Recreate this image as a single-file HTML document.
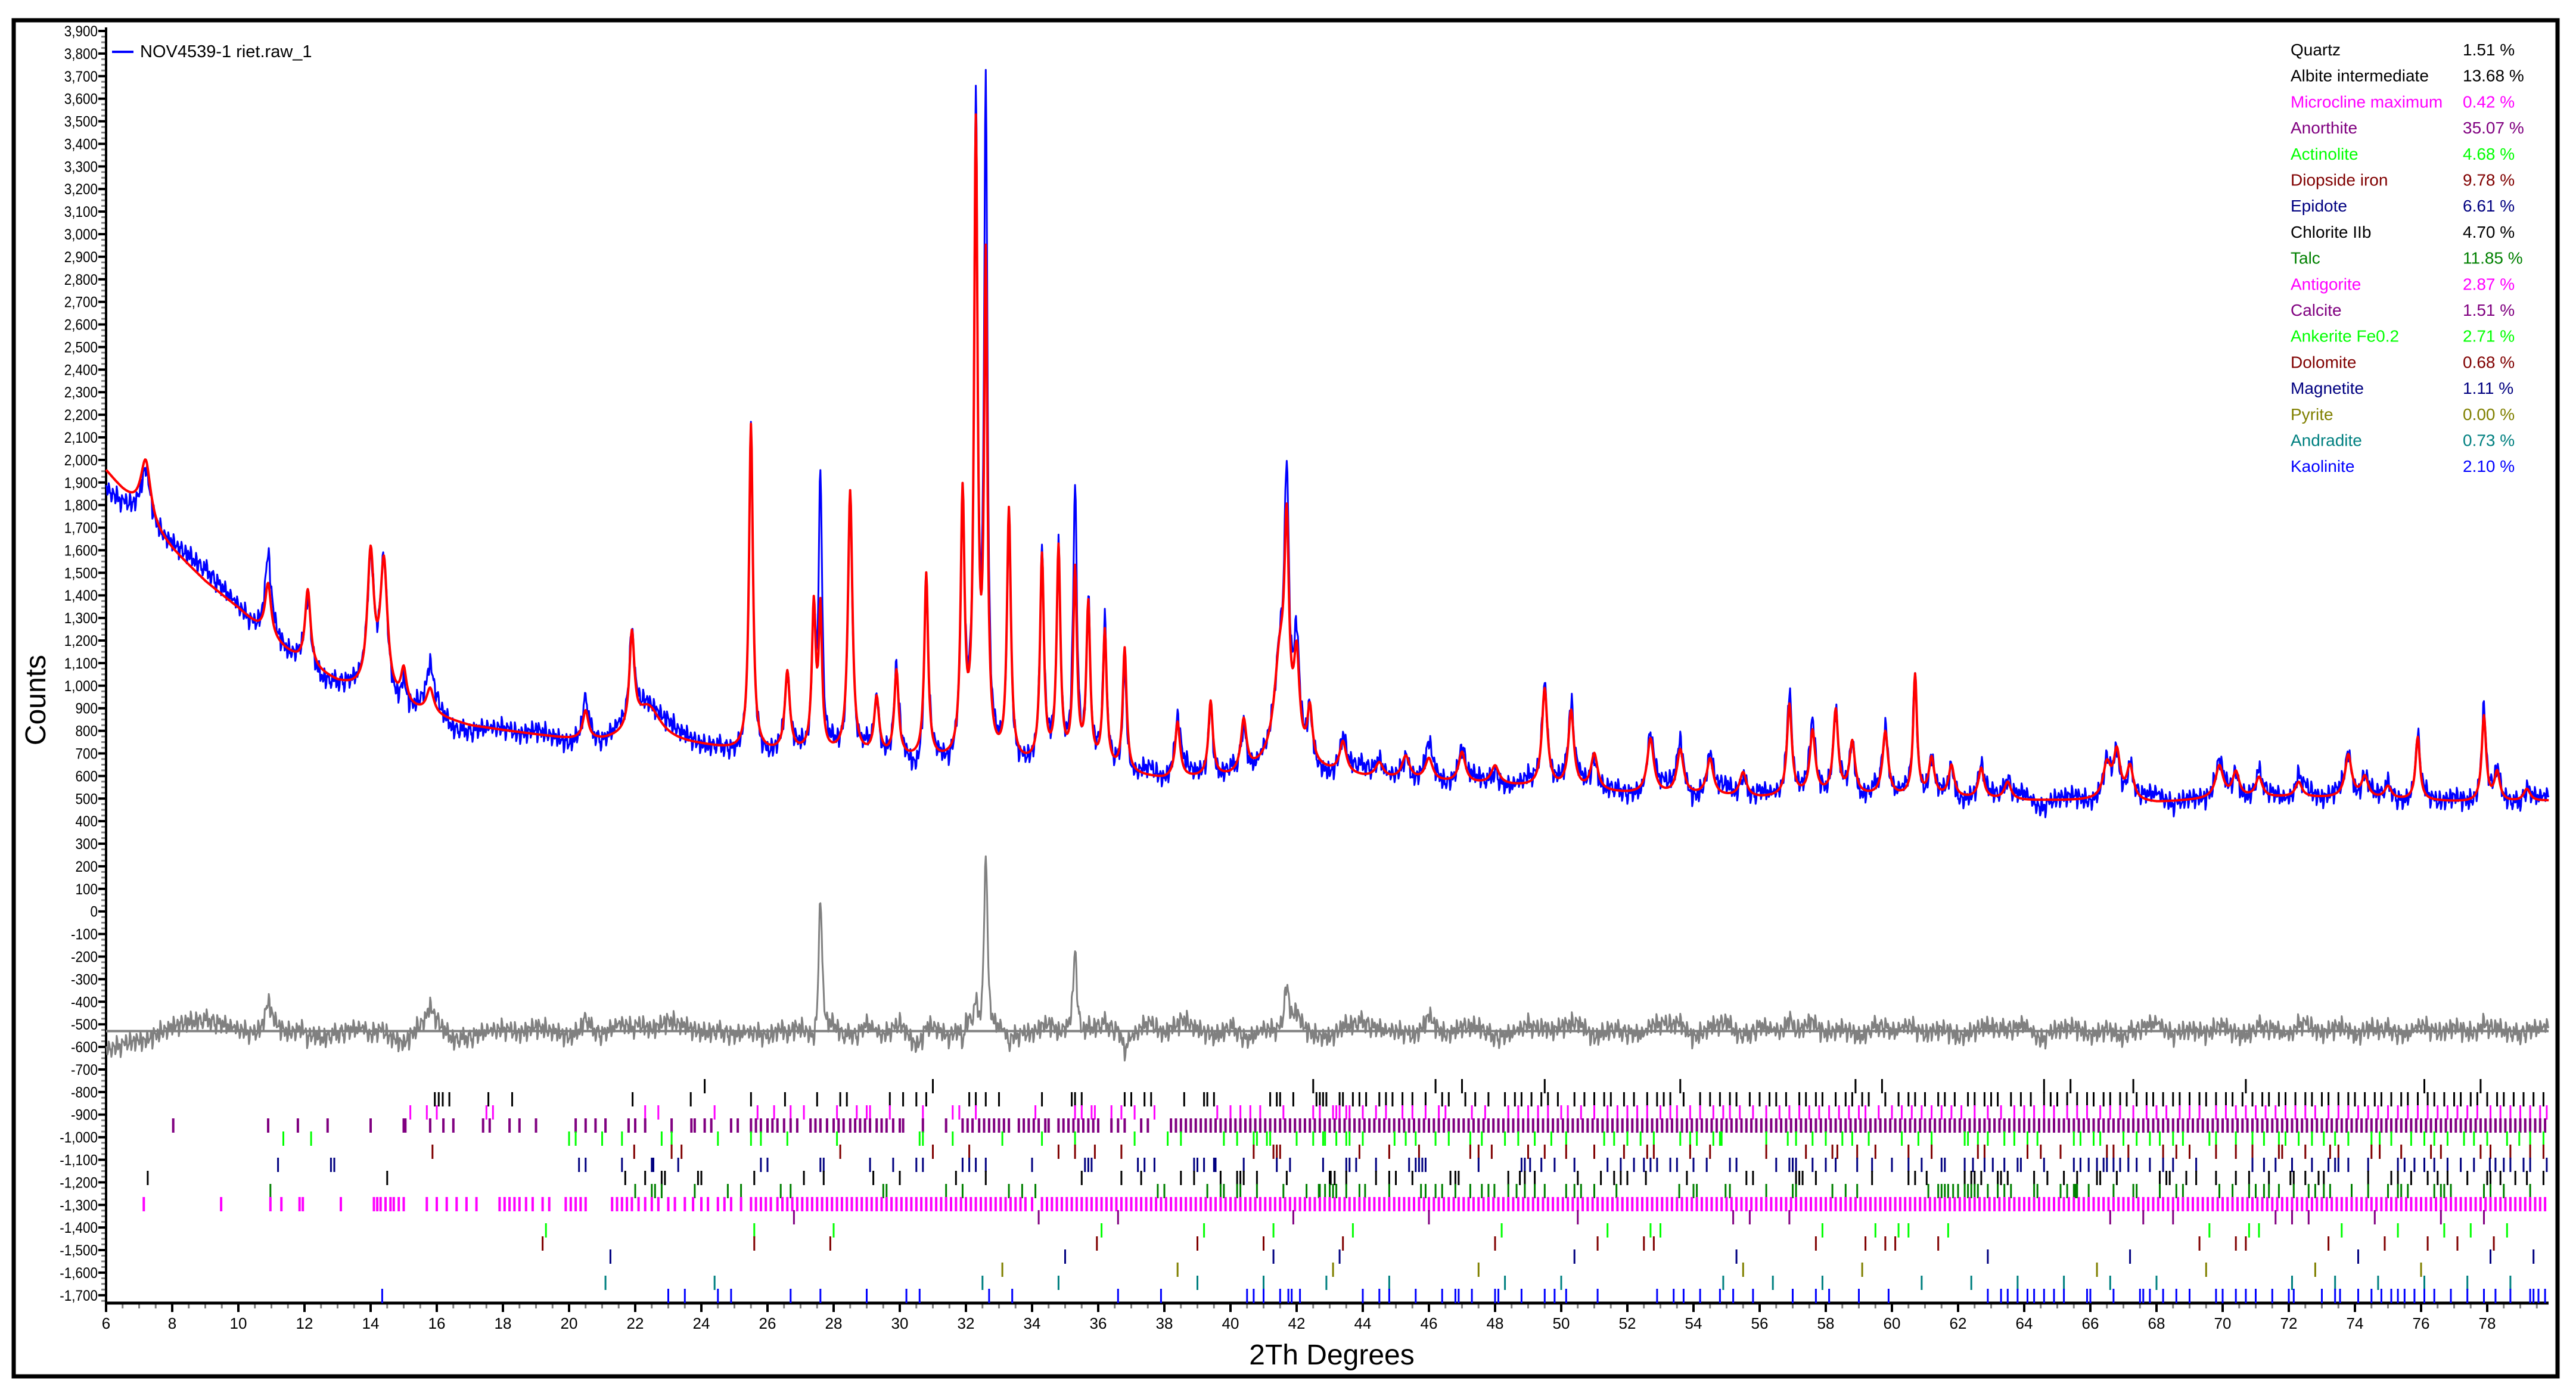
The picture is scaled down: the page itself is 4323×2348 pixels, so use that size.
<!DOCTYPE html>
<html><head><meta charset="utf-8"><title>XRD Rietveld plot</title>
<style>
html,body{margin:0;padding:0;background:#fff;}
svg{display:block;}
text{font-family:"Liberation Sans",Arial,sans-serif;}
</style></head>
<body>
<svg id="chart" xmlns="http://www.w3.org/2000/svg" width="4323" height="2348" viewBox="0 0 4323 2348">
<rect x="0" y="0" width="4323" height="2348" fill="#fff"/>
<rect x="23" y="34" width="4269" height="2276" fill="none" stroke="#000" stroke-width="7"/>
<g id="yaxis"></g>
<g id="xaxis"></g>
<g id="ticksLayer"></g>
<g id="curves"></g>
<text x="0" y="0" font-size="48" text-anchor="middle" transform="translate(76,1175) rotate(-90)">Counts</text>
<text x="2235" y="2290" font-size="48" text-anchor="middle">2Th Degrees</text>
<g>
<line x1="188" y1="87" x2="224" y2="87" stroke="#0000ff" stroke-width="4"/>
<text x="235" y="96" font-size="29">NOV4539-1 riet.raw_1</text>
</g>
<g id="phaseLegend"></g>
</svg>
<script>
// ---- phase legend data ----
const phaseNames=["Quartz","Albite intermediate","Microcline maximum","Anorthite","Actinolite","Diopside iron","Epidote","Chlorite IIb","Talc","Antigorite","Calcite","Ankerite Fe0.2","Dolomite","Magnetite","Pyrite","Andradite","Kaolinite"];
const phasePct=["1.51 %","13.68 %","0.42 %","35.07 %","4.68 %","9.78 %","6.61 %","4.70 %","11.85 %","2.87 %","1.51 %","2.71 %","0.68 %","1.11 %","0.00 %","0.73 %","2.10 %"];
const phaseColors=["#000000","#000000","#ff00ff","#800080","#00ff00","#800000","#000080","#000000","#008000","#ff00ff","#800080","#00ff00","#800000","#000080","#808000","#008080","#0000ff"];

// ---- background (2theta, counts) ----
const bgX=[6,6.5,7,7.5,8,8.5,9,9.5,10,11,12,13,14,15,16,17,18,19,20,21,22,23,24,25,26,28,30,32,34,36,38,40,41,42,43,44,46,48,50,52,54,56,58,60,62,64,66,68,70,72,74,76,78,80];
const bgY=[1950,1860,1780,1680,1600,1530,1460,1400,1340,1200,1090,1010,960,900,860,820,800,780,760,750,760,745,730,710,700,690,670,650,640,620,580,590,620,640,610,590,570,560,540,520,510,500,510,505,500,490,490,480,500,505,500,490,480,490];

// ---- peaks ----
const peakPos=[7.2,10.9,12.1,14.0,14.4,15.0,15.8,20.5,21.9,22.4,25.5,26.6,27.4,27.6,28.5,29.3,29.9,30.8,31.9,32.3,32.6,33.3,34.3,34.8,35.3,35.7,36.2,36.8,38.4,39.4,40.4,41.5,41.7,42.0,42.4,43.4,44.5,45.3,46.0,47.0,48.0,49.5,50.3,51.0,52.7,53.6,54.5,55.5,56.9,57.6,58.3,58.8,59.8,60.7,61.2,61.8,62.7,63.5,66.5,66.8,67.2,69.9,70.4,71.1,72.3,73.8,74.3,75.0,75.9,77.9,78.3,79.2];
const calcPeak=[2000,1450,1420,1560,1520,1050,980,880,1180,900,2150,1050,1330,1300,1850,930,1050,1480,1800,3400,2800,1750,1550,1580,1480,1330,1220,1150,830,920,830,1100,1500,1050,860,740,650,680,670,700,640,980,880,690,760,710,670,610,910,790,880,740,790,1040,670,640,630,570,640,690,630,640,610,590,570,690,590,550,770,860,610,540];
const obsPeak=[1980,1560,1380,1500,1530,1040,1060,930,1160,920,2130,1000,1280,1950,1900,930,1040,1520,1700,3500,3650,1700,1560,1550,1850,1350,1240,1060,810,930,830,1100,1700,1100,860,750,670,690,710,710,650,1020,880,690,790,740,680,640,990,810,880,750,810,1040,680,650,640,590,650,690,640,650,620,610,590,710,600,560,770,890,620,550];
const peakWidth=[0.18,0.11,0.1,0.12,0.13,0.1,0.13,0.1,0.09,0.45,0.07,0.09,0.07,0.06,0.08,0.09,0.08,0.07,0.07,0.065,0.06,0.07,0.07,0.07,0.07,0.07,0.07,0.07,0.09,0.08,0.1,0.22,0.08,0.1,0.09,0.12,0.14,0.14,0.14,0.12,0.14,0.1,0.1,0.12,0.12,0.12,0.12,0.12,0.09,0.1,0.09,0.1,0.1,0.07,0.1,0.1,0.1,0.12,0.14,0.12,0.12,0.14,0.12,0.12,0.12,0.12,0.12,0.12,0.08,0.08,0.1,0.12];

// ---- residual (obs-calc) at 0.5 deg steps from 6.0 ----
const resid=[-80,-60,-30,-10,20,40,50,30,10,-20,30,-10,20,-30,-10,10,40,-20,-50,20,30,-40,-30,0,10,-10,20,0,-30,10,-20,30,20,-10,40,20,-10,0,-20,10,-30,30,10,-40,20,-60,30,-20,40,-70,20,-30,60,-40,10,-20,-10,30,0,-30,20,10,-20,40,-10,60,10,-30,20,-40,10,-10,30,-20,-30,20,40,-10,0,-30,30,-20,10,20,-40,-10,30,-20,20,40,-30,10,-10,-20,30,20,-30,10,40,-50,20,0,-20,30,-10,10,-30,20,-10,30,-20,10,-30,0,20,-10,30,-40,10,20,-20,0,-30,10,40,-20,10,-10,20,-30,0,10,-20,30,-10,20,-30,10,0,-20,30,-10,20,-10,10,0,-20,10,30,0];
// ---- fine counting-noise texture (counts), repeated every 97 samples of 0.04 deg ----
const noiseTex=[12,-25,31,-8,-40,22,5,-33,47,-15,8,-52,26,14,-6,38,-29,-11,44,-37,3,19,-45,28,-2,-21,36,-48,15,9,-30,41,-17,-4,27,-55,33,6,-24,18,-39,50,-12,-28,21,7,-44,30,-9,16,-35,43,-20,2,25,-50,11,37,-26,-7,34,-41,19,-14,46,-31,4,-23,39,-46,13,24,-18,-36,29,-3,48,-27,10,-42,20,32,-16,-49,35,-1,23,-38,17,-10,42,-34,8,-22,30,-13,1];

// ---- phase tick positions (2theta) ----
const tkQuartz=[24.1,31.0,42.5,46.2,47.0,49.5,53.6,58.9,59.7,64.6,65.4,67.3,70.7,76.1,77.8];
const tkAlbite=[15.94,16.06,16.18,16.38,17.56,18.28,21.92,23.68,25.5,26.53,27.5,28.2,28.4,29.7,30.1,30.5,30.8,32.1,32.3,32.6,33.0,34.3,35.2,35.3,35.5,36.8,37.0,37.4,37.6,38.6,39.2,39.3,39.5,41.2,41.4,41.5,41.9,42.7,42.8,43.4,42.6,42.9,43.3,43.7,43.9,44.1,44.5,44.7,44.9,45.2,45.5,45.9,46.4,46.6,47.1,47.4,47.8,48.3,48.6,48.8,49.1,49.4,49.6,49.9,50.4,50.7,51.0,51.3,51.5,51.9,52.2,52.6,52.9,53.1,53.3,53.7,54.2,54.5,54.8,55.1,55.3,55.7,56.0,56.3,56.5,56.8,57.2,57.4,57.7,57.9,58.3,58.6,58.8,59.1,59.3,59.8,60.2,60.5,60.7,61.0,61.4,61.6,61.9,62.3,62.5,62.8,63.0,63.2,63.6,63.9,64.2,64.6,64.8,65.0,65.3,65.6,65.9,66.1,66.4,66.6,66.9,67.1,67.4,67.7,67.9,68.2,68.5,68.7,69.0,69.3,69.5,69.8,70.1,70.3,70.6,70.9,71.2,71.4,71.7,71.9,72.2,72.5,72.7,73.0,73.2,73.5,73.8,74.0,74.3,74.6,74.8,75.1,75.4,75.6,75.9,76.2,76.4,76.7,77.0,77.2,77.5,77.7,78.0,78.3,78.5,78.8,79.1,79.4,79.7];
const tkMicrocline=[15.2,15.7,16.0,17.5,17.7,22.3,22.7,24.4,25.7,26.2,26.7,27.1,28.1,28.7,29.0,29.1,29.7,30.7,31.6,31.8,32.3,34.1,35.3,35.5,35.8,35.9,36.4,36.7,37.1,37.7,39.6,40.0,40.3,40.6,40.9,41.6,42.5,43.2,43.5,42.7,43.1,43.3,43.6,44.0,44.4,44.7,45.2,45.5,45.9,46.3,46.5,47.3,47.7,48.4,48.7,49.0,49.3,49.6,50.0,50.2,50.6,51.0,51.4,51.7,52.0,52.3,52.6,53.0,53.3,53.5,53.9,54.2,54.6,54.9,55.1,55.4,55.8,56.2,56.6,56.9,57.2,57.5,57.8,58.1,58.4,58.7,59.0,59.2,59.6,60.0,60.3,60.6,60.9,61.2,61.5,61.8,62.1,62.5,62.9,63.3,63.7,64.0,64.3,64.6,64.9,65.3,65.6,65.9,66.3,66.6,66.9,67.3,67.7,68.0,68.3,68.7,69.0,69.3,69.8,70.1,70.4,70.7,71.0,71.3,71.6,71.9,72.2,72.5,72.8,73.2,73.5,73.8,74.1,74.4,74.7,75.0,75.3,75.6,75.9,76.2,76.5,76.8,77.1,77.4,77.7,78.1,78.4,78.7,79.0,79.3,79.6,79.8];
const tkAnorthite=[8.03,10.9,11.8,12.7,14.0,15.0,15.05,15.8,16.2,16.5,17.4,17.6,18.2,18.5,19.0,20.2,20.5,20.8,21.1,21.8,22.0,22.3,23.1,23.7,23.8,24.1,24.3,24.9,25.1,25.5,25.65,25.8,26.0,26.15,26.3,26.5,26.7,26.9,27.3,27.45,27.6,27.8,28.0,28.15,28.3,28.5,28.65,28.8,28.95,29.1,29.3,29.45,29.6,29.8,30.0,30.1,30.7,31.4,31.9,32.05,32.2,32.4,32.55,32.7,32.85,33.0,33.15,33.3,33.6,33.75,33.9,34.05,34.2,34.4,34.5,34.8,34.95,35.1,35.25,35.4,35.55,35.7,35.85,36.0,36.4,36.6,36.8,37.3,37.5,38.2,38.35,38.5,38.65,38.8,38.95,39.1,39.25,39.4,39.55,39.7,39.85,40.0,40.15,40.3,40.45,40.6,40.75,40.9,41.05,41.2,41.35,41.5,41.65,41.8,41.95,42.1,42.25,42.4,42.55,42.7,42.85,43.0,43.15,43.3,43.45,43.6,43.75,43.9,44.05,44.2,44.35,44.5,44.65,44.8,44.95,45.1,45.25,45.4,45.55,45.7,45.85,46.0,46.15,46.3,46.45,46.6,46.75,46.9,47.05,47.2,47.35,47.5,47.65,47.8,47.95,48.1,48.25,48.4,48.55,48.7,48.85,49.0,49.15,49.3,49.45,49.6,49.75,49.9,50.05,50.2,50.35,50.5,50.65,50.8,50.95,51.1,51.25,51.4,51.55,51.7,51.85,52.0,52.15,52.3,52.45,52.6,52.75,52.9,53.05,53.2,53.35,53.5,53.65,53.8,53.95,54.1,54.25,54.4,54.55,54.7,54.85,55.0,55.15,55.3,55.45,55.6,55.75,55.9,56.05,56.2,56.35,56.5,56.65,56.8,56.95,57.1,57.25,57.4,57.55,57.7,57.85,58.0,58.15,58.3,58.45,58.6,58.75,58.9,59.05,59.2,59.35,59.5,59.65,59.8,59.95,60.1,60.25,60.4,60.55,60.7,60.85,61.0,61.15,61.3,61.45,61.6,61.75,61.9,62.05,62.2,62.35,62.5,62.65,62.8,62.95,63.1,63.25,63.4,63.55,63.7,63.85,64.0,64.15,64.3,64.45,64.6,64.75,64.9,65.05,65.2,65.35,65.5,65.65,65.8,65.95,66.1,66.25,66.4,66.55,66.7,66.85,67.0,67.15,67.3,67.45,67.6,67.75,67.9,68.05,68.2,68.35,68.5,68.65,68.8,68.95,69.1,69.25,69.4,69.55,69.7,69.85,70.0,70.15,70.3,70.45,70.6,70.75,70.9,71.05,71.2,71.35,71.5,71.65,71.8,71.95,72.1,72.25,72.4,72.55,72.7,72.85,73.0,73.15,73.3,73.45,73.6,73.75,73.9,74.05,74.2,74.35,74.5,74.65,74.8,74.95,75.1,75.25,75.4,75.55,75.7,75.85,76.0,76.15,76.3,76.45,76.6,76.75,76.9,77.05,77.2,77.35,77.5,77.65,77.8,77.95,78.1,78.25,78.4,78.55,78.7,78.85,79.0,79.15,79.3,79.45,79.6,79.75];
const tkActinolite=[11.36,12.2,20.0,20.2,21.0,21.6,22.8,23.1,24.5,25.5,25.8,26.6,28.1,30.6,30.7,31.6,33.1,34.3,35.3,37.1,38.1,38.5,39.8,40.2,40.7,40.8,41.1,41.2,42.0,42.5,42.8,43.2,43.6,42.86,43.5,44.0,44.96,45.3,45.6,46.2,46.6,47.25,47.6,48.3,48.7,49.2,49.7,50.15,51.3,51.6,52.0,52.4,52.8,53.6,53.9,54.1,54.6,54.8,54.85,56.2,56.85,57.1,57.6,58.0,58.5,58.8,59.3,60.3,60.8,61.2,62.2,62.3,62.6,62.9,63.4,63.7,64.1,64.4,65.5,65.7,66.1,66.3,67.0,67.4,67.8,68.1,68.5,68.8,69.6,69.8,70.4,70.9,71.25,71.7,71.9,72.3,72.7,73.06,73.4,73.8,74.5,74.75,75.1,75.7,76.1,76.4,76.8,77.3,77.6,78.0,78.6,78.97,79.3,79.7];
const tkDiopside=[15.87,21.97,23.1,23.4,28.2,31.0,32.1,34.8,35.3,35.9,36.7,40.7,41.3,41.4,41.5,43.9,44.8,45.7,47.25,47.5,47.9,49.0,49.5,50.15,51.0,51.9,52.6,52.8,53.9,54.5,56.2,57.4,58.2,58.35,58.95,59.5,60.5,61.2,62.6,62.8,64.1,64.5,65.1,66.5,66.7,67.15,68.2,68.6,69.0,69.8,70.4,70.9,71.7,71.8,72.5,73.25,73.5,74.5,74.75,75.4,76.3,76.6,77.8,78.1,78.7,79.3,79.7];
const tkEpidote=[11.2,12.8,12.9,20.3,20.5,21.6,22.5,22.55,23.3,25.8,26.0,27.6,27.7,29.1,29.8,30.5,30.7,31.9,32.1,32.3,32.6,34.0,35.6,35.7,35.8,37.2,37.4,37.7,38.9,39.0,39.2,39.5,39.55,40.4,41.4,41.8,42.8,43.5,43.6,43.8,44.4,45.4,45.6,45.7,45.8,45.9,47.5,48.8,48.9,49.06,49.4,49.8,50.4,51.4,51.8,52.2,52.5,52.7,52.9,53.3,53.5,54.0,54.4,55.1,55.3,56.5,56.9,57.0,57.1,57.6,58.0,58.3,58.95,59.4,60.0,60.5,60.9,61.5,61.6,62.2,62.45,62.8,63.05,63.4,63.8,63.9,64.6,65.5,65.7,65.95,66.2,66.4,66.5,66.7,66.9,67.15,67.4,67.8,68.2,68.5,69.2,70.9,71.25,71.6,72.1,72.7,73.2,73.4,73.5,73.8,74.4,75.3,75.5,75.8,76.1,76.4,76.8,77.2,77.6,78.08,78.25,78.5,78.7,79.1,79.3,79.8];
const tkChlorite=[7.26,14.5,21.7,22.3,22.8,22.9,23.9,24.0,25.6,27.1,27.7,29.2,30.0,31.7,32.6,35.5,36.7,37.3,38.5,38.9,39.7,40.2,40.3,40.4,40.8,41.7,43.0,43.5,43.03,43.15,44.4,44.8,45.0,45.5,46.65,46.8,46.9,48.4,48.75,48.9,49.2,50.5,51.2,51.6,51.8,52.0,52.56,53.8,55.6,55.8,57.1,57.2,57.3,57.7,59.4,60.5,60.7,61.05,62.2,62.4,62.5,62.7,63.2,63.3,63.5,64.3,64.7,65.2,65.6,66.2,66.3,66.8,68.1,68.3,68.4,68.9,69.2,69.8,70.4,70.8,71.4,72.05,72.15,72.5,72.9,73.06,74.4,75.1,75.3,75.7,76.2,76.5,76.8,77.4,78.0,78.1,78.4,78.85,79.2,79.7];
const tkTalc=[10.97,22.0,22.5,22.6,22.8,23.8,24.8,25.2,26.4,26.7,29.5,29.6,31.4,31.9,33.3,33.7,34.1,37.8,38.0,39.3,39.7,39.8,40.2,40.3,40.8,41.6,42.3,42.7,43.0,43.2,43.5,42.67,42.86,43.1,43.9,44.07,44.8,45.76,45.9,46.2,46.4,46.8,47.25,47.6,47.8,47.98,48.4,48.65,48.9,49.2,49.5,50.15,50.4,50.6,51.0,51.67,53.57,54.0,54.1,54.97,55.1,56.2,57.0,57.1,58.2,58.6,58.95,61.1,61.4,61.5,61.6,61.7,61.85,62.0,62.2,62.3,62.4,62.5,62.6,62.9,63.2,63.4,63.6,64.3,64.4,65.1,65.3,65.5,65.55,65.6,65.95,66.7,67.3,67.4,68.1,68.6,68.8,69.9,70.3,70.8,71.0,71.25,71.4,71.7,72.15,72.6,72.8,73.06,73.25,73.9,74.4,75.0,75.3,75.4,75.6,76.4,76.6,76.7,76.9,77.9,78.1,78.5,79.3];
const tkAntigorite=[7.14,9.48,10.97,11.3,11.85,11.95,13.1,14.1,14.2,14.3,14.45,14.6,14.7,14.85,15.0,15.7,16.0,16.3,16.6,16.9,17.2,17.9,18.05,18.2,18.35,18.5,18.7,18.9,19.2,19.4,19.9,20.05,20.2,20.35,20.5,21.3,21.45,21.6,21.75,21.9,22.1,22.3,22.5,22.7,23.0,23.2,23.5,23.75,24.0,24.2,24.5,24.7,24.9,25.2,25.5,25.65,25.8,25.95,26.1,26.3,26.45,26.6,26.75,26.9,27.05,27.2,27.35,27.5,27.65,27.8,27.95,28.1,28.25,28.4,28.55,28.7,28.85,29.0,29.15,29.3,29.45,29.6,29.75,29.9,30.05,30.2,30.35,30.5,30.65,30.8,30.95,31.1,31.25,31.4,31.55,31.7,31.85,32.0,32.15,32.3,32.45,32.6,32.75,32.9,33.05,33.2,33.35,33.5,33.65,33.8,34.0,34.3,34.45,34.6,34.75,34.9,35.05,35.2,35.35,35.5,35.65,35.8,35.95,36.1,36.25,36.4,36.55,36.7,36.85,37.0,37.15,37.3,37.45,37.6,37.75,37.9,38.05,38.2,38.35,38.5,38.65,38.8,38.95,39.1,39.25,39.4,39.55,39.7,39.85,40.0,40.15,40.3,40.45,40.6,40.75,40.9,41.05,41.2,41.35,41.5,41.65,41.8,41.95,42.1,42.25,42.4,42.55,42.7,42.85,43.0,43.15,43.3,43.45,43.6,43.75,43.9,44.05,44.2,44.35,44.5,44.65,44.8,44.95,45.1,45.25,45.4,45.55,45.7,45.85,46.0,46.15,46.3,46.45,46.6,46.75,46.9,47.05,47.2,47.35,47.5,47.65,47.8,47.95,48.1,48.25,48.4,48.55,48.7,48.85,49.0,49.15,49.3,49.45,49.6,49.75,49.9,50.05,50.2,50.35,50.5,50.65,50.8,50.95,51.1,51.25,51.4,51.55,51.7,51.85,52.0,52.15,52.3,52.45,52.6,52.75,52.9,53.05,53.2,53.35,53.5,53.65,53.8,53.95,54.1,54.25,54.4,54.55,54.7,54.85,55.0,55.15,55.3,55.45,55.6,55.75,55.9,56.05,56.2,56.35,56.5,56.65,56.8,56.95,57.1,57.25,57.4,57.55,57.7,57.85,58.0,58.15,58.3,58.45,58.6,58.75,58.9,59.05,59.2,59.35,59.5,59.65,59.8,59.95,60.1,60.25,60.4,60.55,60.7,60.85,61.0,61.15,61.3,61.45,61.6,61.75,61.9,62.05,62.2,62.35,62.5,62.65,62.8,62.95,63.1,63.25,63.4,63.55,63.7,63.85,64.0,64.15,64.3,64.45,64.6,64.75,64.9,65.05,65.2,65.35,65.5,65.65,65.8,65.95,66.1,66.25,66.4,66.55,66.7,66.85,67.0,67.15,67.3,67.45,67.6,67.75,67.9,68.05,68.2,68.35,68.5,68.65,68.8,68.95,69.1,69.25,69.4,69.55,69.7,69.85,70.0,70.15,70.3,70.45,70.6,70.75,70.9,71.05,71.2,71.35,71.5,71.65,71.8,71.95,72.1,72.25,72.4,72.55,72.7,72.85,73.0,73.15,73.3,73.45,73.6,73.75,73.9,74.05,74.2,74.35,74.5,74.65,74.8,74.95,75.1,75.25,75.4,75.55,75.7,75.85,76.0,76.15,76.3,76.45,76.6,76.75,76.9,77.05,77.2,77.35,77.5,77.65,77.8,77.95,78.1,78.25,78.4,78.55,78.7,78.85,79.0,79.15,79.3,79.45,79.6,79.75];
const tkCalcite=[26.8,34.2,36.6,41.9,46.0,50.5,55.2,55.7,56.9,66.6,67.6,68.5,71.6,72.1,72.6,74.6,76.6,77.9];
const tkAnkerite=[19.3,25.6,28.0,36.1,39.2,41.3,43.7,48.2,51.4,52.7,53.0,57.9,59.5,60.2,60.5,61.7,69.6,70.8,71.1,73.6,75.3,76.7,77.5,78.6];
const tkDolomite=[19.2,25.6,27.9,35.96,39.0,41.0,43.4,48.0,51.1,52.5,52.8,57.7,59.2,59.8,60.1,61.4,69.3,70.4,70.7,73.2,74.9,76.2,77.1,78.2];
const tkMagnetite=[21.25,35.0,41.3,43.3,50.4,55.3,62.9,67.2,74.1,78.1,79.4];
const tkPyrite=[33.1,38.4,43.1,47.5,55.5,59.1,66.2,69.5,72.8,76.0];
const tkAndradite=[21.1,24.4,32.5,34.8,39.0,41.0,42.9,44.8,48.3,50.0,54.9,56.4,57.9,60.9,62.4,63.8,65.2,66.6,68.0,72.1,73.4,74.7,76.1,77.4,78.7];
const tkKaolinite=[14.35,23.0,23.5,24.5,24.9,26.7,27.6,29.0,30.2,30.6,32.7,33.4,36.6,37.9,40.5,40.7,41.0,41.5,41.75,41.85,42.1,44.0,44.5,44.8,45.6,46.4,46.8,46.9,47.3,48.0,48.1,48.8,49.5,49.8,50.15,51.1,52.9,53.4,53.7,54.2,54.8,55.2,55.8,57.0,57.7,58.1,59.0,59.9,62.9,63.3,63.5,63.8,64.1,64.3,64.6,64.9,65.2,65.9,66.0,66.7,67.5,67.6,67.8,68.2,68.6,69.0,69.8,70.0,70.4,70.7,71.0,71.5,72.0,72.15,73.0,73.4,73.55,74.1,74.5,74.8,75.1,75.3,75.5,75.8,76.1,76.4,76.9,77.4,77.9,78.25,78.7,79.3,79.4,79.55,79.75];
const phaseTicks=[tkQuartz,tkAlbite,tkMicrocline,tkAnorthite,tkActinolite,tkDiopside,tkEpidote,tkChlorite,tkTalc,tkAntigorite,tkCalcite,tkAnkerite,tkDolomite,tkMagnetite,tkPyrite,tkAndradite,tkKaolinite];

// ---- axis ticks ----
const xTickLabels=[6,8,10,12,14,16,18,20,22,24,26,28,30,32,34,36,38,40,42,44,46,48,50,52,54,56,58,60,62,64,66,68,70,72,74,76,78];
const yTickLabels=[3900,3800,3700,3600,3500,3400,3300,3200,3100,3000,2900,2800,2700,2600,2500,2400,2300,2200,2100,2000,1900,1800,1700,1600,1500,1400,1300,1200,1100,1000,900,800,700,600,500,400,300,200,100,0,-100,-200,-300,-400,-500,-600,-700,-800,-900,-1000,-1100,-1200,-1300,-1400,-1500,-1600,-1700];
const diffOffset=-530;

// ---- scales ----
const X0=178, XMIN=6, PXDEG=55.5, XEND=4277;
const Y0=52, YTOP=3900, PXCNT=0.3789, YBASE=2187;
function X(d){return X0+(d-XMIN)*PXDEG;}
function Y(c){return Y0+(YTOP-c)*PXCNT;}
const NS='http://www.w3.org/2000/svg';
function mk(tag,attrs,parent){const e=document.createElementNS(NS,tag);for(const k in attrs)e.setAttribute(k,attrs[k]);parent.appendChild(e);return e;}
function fmt(v){return v.toLocaleString('en-US');}

function interp(xs,ys,x){
  if(x<=xs[0])return ys[0];
  for(let i=1;i<xs.length;i++){if(x<=xs[i]){const t=(x-xs[i-1])/(xs[i]-xs[i-1]);return ys[i-1]+t*(ys[i]-ys[i-1]);}}
  return ys[ys.length-1];
}
function residAt(x){
  const f=(x-6)/0.5;const i=Math.floor(f);const t=f-i;
  const a=resid[Math.max(0,Math.min(resid.length-1,i))],b=resid[Math.max(0,Math.min(resid.length-1,i+1))];
  return a+(b-a)*t;
}
function pattern(x,heights){
  let v=interp(bgX,bgY,x);
  for(let i=0;i<peakPos.length;i++){
    const dx=(x-peakPos[i])/peakWidth[i];
    const amp=heights[i]-interp(bgX,bgY,peakPos[i]);
    v+=amp/(1+dx*dx);
  }
  return v;
}

// ---- y axis ----
const ya=document.getElementById('yaxis');
for(let c=3900;c>=-1725;c-=25){
  if(c%100!==0){const l=mk('line',{x1:X0-8,y1:Y(c),x2:X0,y2:Y(c),stroke:'#808080','stroke-width':3},ya);
  }
}
yTickLabels.forEach(v=>{
  const l=mk('line',{x1:X0-13,y1:Y(v),x2:X0,y2:Y(v),stroke:'#000','stroke-width':4},ya);
  
  const t=mk('text',{x:X0-14,y:Y(v)+9,'font-size':25,'text-anchor':'end',transform:`translate(${(X0-14)*0.1},0) scale(0.9,1)`},ya);
  t.textContent=fmt(v);
  
});
const yl=mk('line',{x1:X0,y1:Y0-6,x2:X0,y2:YBASE,stroke:'#000','stroke-width':4},ya);


// ---- x axis ----
const xa=document.getElementById('xaxis');
for(let d=6.5;d<80;d+=0.5){
  if(Math.abs(d%2)>0.01){const l=mk('line',{x1:X(d),y1:YBASE,x2:X(d),y2:YBASE+9,stroke:'#808080','stroke-width':3},xa);
  }
}
xTickLabels.forEach(v=>{
  const l=mk('line',{x1:X(v),y1:YBASE,x2:X(v),y2:YBASE+15,stroke:'#000','stroke-width':4},xa);
  
  const t=mk('text',{x:X(v),y:YBASE+43,'font-size':26,'text-anchor':'middle'},xa);
  t.textContent=v;
  
});
const xl=mk('line',{x1:X0,y1:YBASE,x2:XEND,y2:YBASE,stroke:'#000','stroke-width':5},xa);


// ---- phase tick rows ----
const tl=document.getElementById('ticksLayer');
const ROWH=22, TLEN=24, NROW=phaseTicks.length;
phaseTicks.forEach((arr,r)=>{
  const yb=YBASE-(NROW-1-r)*ROWH;
  const g=mk('g',{stroke:phaseColors[r],'stroke-width':(r===3||r===9)?4:3},tl);
  
  
  let dstr='';
  arr.forEach(d=>{if(d>=6&&d<=79.9)dstr+=`M${X(d).toFixed(1)} ${yb-TLEN}V${yb}`;});
  const p=mk('path',{d:dstr,fill:'none'},g);
  
});

// ---- curves ----
const cv=document.getElementById('curves');
let pObs='',pCalc='',pDiff='';
let k=0;
for(let x=6;x<=79.87;x+=0.02,k++){
  const c=pattern(x,calcPeak);
  const nz=noiseTex[Math.floor(k/2)%noiseTex.length]*(k%2?0.6:1);
  const o=pattern(x,obsPeak)+residAt(x)+nz;
  const df=diffOffset+(o-c);
  const px=X(x).toFixed(1);
  pObs+=(pObs?'L':'M')+px+' '+Y(o).toFixed(1);
  pCalc+=(pCalc?'L':'M')+px+' '+Y(c).toFixed(1);
  pDiff+=(pDiff?'L':'M')+px+' '+Y(df).toFixed(1);
}
const zl=mk('line',{x1:X0,y1:Y(diffOffset),x2:XEND,y2:Y(diffOffset),stroke:'#808080','stroke-width':4},cv);

const dp=mk('path',{d:pDiff,fill:'none',stroke:'#808080','stroke-width':3,'stroke-linejoin':'round'},cv);

const op=mk('path',{d:pObs,fill:'none',stroke:'#0000ff','stroke-width':3,'stroke-linejoin':'round'},cv);

const cp=mk('path',{d:pCalc,fill:'none',stroke:'#ff0000','stroke-width':4,'stroke-linejoin':'round'},cv);


// ---- phase legend ----
const pl=document.getElementById('phaseLegend');
phaseNames.forEach((n,i)=>{
  const yb=93+i*43.7;
  const t1=mk('text',{x:3844,y:yb,'font-size':28,fill:phaseColors[i]},pl);
  t1.textContent=n;
  
  const t2=mk('text',{x:4133,y:yb,'font-size':28,fill:phaseColors[i]},pl);
  t2.textContent=phasePct[i];
  
});
</script>
</body></html>
